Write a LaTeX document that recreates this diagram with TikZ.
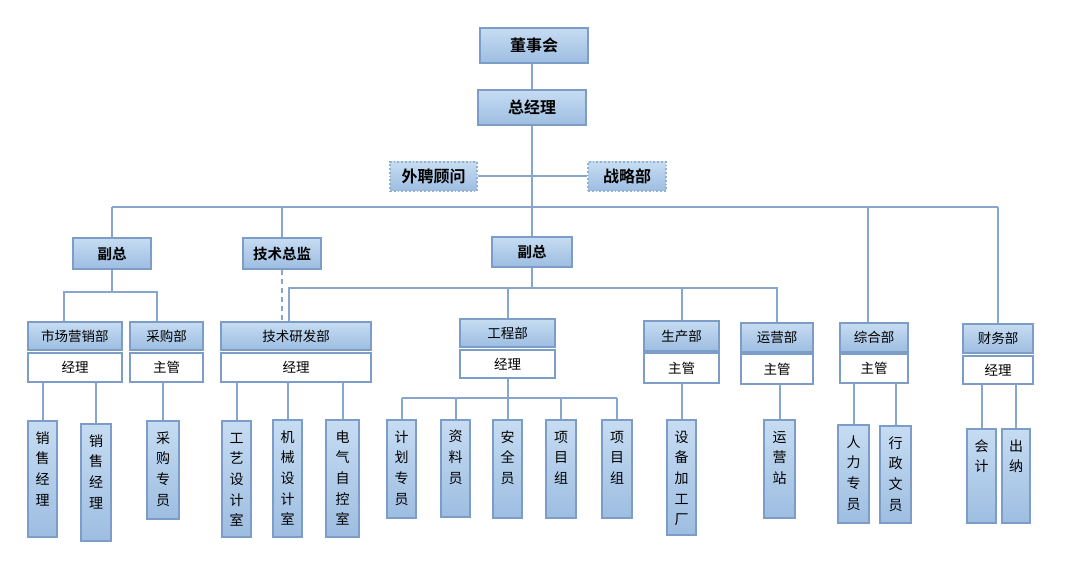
\documentclass[tikz,border=0pt]{standalone}
\usepackage{fontspec}
\setmainfont{Noto Sans CJK SC}
\newfontfamily\cjkb{Noto Sans CJK SC Bold}
\definecolor{bordc}{HTML}{7B9DC7}
\definecolor{linec}{HTML}{86A6CE}
\definecolor{topc}{HTML}{C6DCF2}
\definecolor{botc}{HTML}{9DBDE1}
\tikzset{
  gbox/.style={draw=bordc, line width=1.8pt, top color=topc, bottom color=botc, inner sep=0pt, font=\fontsize{13.5}{15}\selectfont},
  hbox/.style={gbox, font=\cjkb\fontsize{16}{18}\selectfont},
  hboxs/.style={gbox, font=\cjkb\fontsize{14.5}{16}\selectfont},
  dbox/.style={hbox, draw=bordc!80, dotted, line width=1.6pt},
  wbox/.style={draw=bordc, line width=1.8pt, fill=white, inner sep=0pt, font=\fontsize{13.5}{15}\selectfont},
  leafbox/.style={draw=bordc, line width=1.8pt, top color=topc, bottom color=botc, inner sep=0pt},
  ln/.style={draw=linec, line width=2pt},
  dln/.style={ln, dash pattern=on 5pt off 4pt}
}
\newcommand\obox[7]{\node[#6, minimum width={#4-#2}, minimum height={#5-#3}] (#1) at ({(#2+#4)/2},{-(#3+#5)/2}) {#7};}
\newcommand\leaf[6]{\node[leafbox, minimum width={#4-#2}, minimum height={#5-#3}] (#1) at ({(#2+#4)/2},{-(#3+#5)/2}) {\parbox[c][\dimexpr #5pt-#3pt\relax][t]{\dimexpr #4pt-#2pt\relax}{\centering\fontsize{14}{20.7}\selectfont\rule{0pt}{22pt}#6}};}
\begin{document}
\begin{tikzpicture}[x=1pt,y=1pt]
\useasboundingbox (0,0) rectangle (1077,-561);
% top
\obox{dsh}{480}{28}{588}{63}{hbox}{董事会}
\obox{zjl}{478}{90}{586}{125}{hbox}{总经理}
\obox{wp}{390}{162}{477}{191}{dbox}{外聘顾问}
\obox{zl}{588}{162}{666}{191}{dbox}{战略部}
\obox{fza}{73}{238}{151}{269}{hboxs}{副总}
\obox{jz}{243}{238}{321}{269}{hboxs}{技术总监}
\obox{fzb}{492}{237}{572}{267}{hboxs}{副总}
% departments
\obox{sc}{28}{322}{122}{350}{gbox}{市场营销部}
\obox{scj}{28}{353}{122}{382}{wbox}{经理}
\obox{cg}{130}{322}{203}{350}{gbox}{采购部}
\obox{cgj}{130}{353}{203}{382}{wbox}{主管}
\obox{jy}{221}{322}{371}{350}{gbox}{技术研发部}
\obox{jyj}{221}{353}{371}{382}{wbox}{经理}
\obox{gc}{460}{319}{555}{347}{gbox}{工程部}
\obox{gcj}{460}{350}{555}{378}{wbox}{经理}
\obox{sp}{644}{321}{719}{351}{gbox}{生产部}
\obox{spj}{644}{353}{719}{383}{wbox}{主管}
\obox{yy}{741}{323}{813}{352}{gbox}{运营部}
\obox{yyj}{741}{354}{813}{384}{wbox}{主管}
\obox{zh}{840}{323}{908}{352}{gbox}{综合部}
\obox{zhj}{840}{354}{908}{383}{wbox}{主管}
\obox{cw}{963}{324}{1033}{353}{gbox}{财务部}
\obox{cwj}{963}{356}{1033}{384}{wbox}{经理}
% leaves
\leaf{la}{28}{421}{57}{537}{销\\售\\经\\理}
\leaf{lb}{81}{424}{111}{541}{销\\售\\经\\理}
\leaf{lc}{147}{421}{179}{519}{采\\购\\专\\员}
\leaf{ld}{222}{421}{251}{537}{工\\艺\\设\\计\\室}
\leaf{le}{273}{420}{302}{537}{机\\械\\设\\计\\室}
\leaf{lf}{326}{420}{359}{537}{电\\气\\自\\控\\室}
\leaf{lg}{387}{420}{416}{518}{计\\划\\专\\员}
\leaf{lh}{441}{420}{470}{517}{资\\料\\员}
\leaf{li}{493}{420}{522}{518}{安\\全\\员}
\leaf{lj}{546}{420}{576}{518}{项\\目\\组}
\leaf{lk}{602}{420}{632}{518}{项\\目\\组}
\leaf{ll}{667}{420}{696}{535}{设\\备\\加\\工\\厂}
\leaf{lm}{764}{420}{795}{518}{运\\营\\站}
\leaf{ln}{838}{425}{869}{523}{人\\力\\专\\员}
\leaf{lo}{880}{426}{911}{523}{行\\政\\文\\员}
\leaf{lp}{967}{429}{996}{523}{会\\计}
\leaf{lq}{1002}{429}{1030}{523}{出\\纳}
% buses
\coordinate (bus) at (532,-207);
\coordinate (lba) at (64,-292);
\coordinate (lbb) at (157,-292);
\coordinate (cba) at (289,-288);
\coordinate (gbus) at (508,-398);
% connectors
\draw[ln] (zjl.north) -- (zjl.north |- dsh.south);
\draw[ln] (zjl.south) -- (zjl.south |- fzb.north);
\draw[ln] (wp.east) -- (wp.east -| zl.west);
\draw[ln] (fza.north |- bus) -- (cw.north |- bus);
\draw[ln] (fza.north) -- (fza.north |- bus);
\draw[ln] (jz.north) -- (jz.north |- bus);
\draw[ln] ([xshift=-6pt]zh.north) -- ([xshift=-6pt]zh.north |- bus);
\draw[ln] (cw.north) -- (cw.north |- bus);
\draw[ln] (fza.south) -- (fza.south |- lba);
\draw[ln] (sc.north -| lba) -- (lba) -- (lbb) -- (lbb |- cg.north);
\draw[dln] (jz.south) -- (jz.south |- jy.north);
\draw[ln] (fzb.south) -- (fzb.south |- cba);
\draw[ln] (jy.north -| cba) -- (cba) -- (cba -| yy.north) -- (yy.north);
\draw[ln] (gc.north) -- (gc.north |- cba);
\draw[ln] (sp.north) -- (sp.north |- cba);
% to leaves
\foreach \a/\b in {la/scj, lb/scj, lc/cgj, ld/jyj, le/jyj, lf/jyj, ll/spj, lm/yyj, ln/zhj, lo/zhj, lp/cwj, lq/cwj}
  \draw[ln] (\a.north) -- (\a.north |- \b.south);
\draw[ln] (gcj.south) -- (gcj.south |- gbus);
\draw[ln] (lg.north |- gbus) -- (lk.north |- gbus);
\foreach \a in {lg, lh, li, lj, lk}
  \draw[ln] (\a.north) -- (\a.north |- gbus);
\end{tikzpicture}
\end{document}
